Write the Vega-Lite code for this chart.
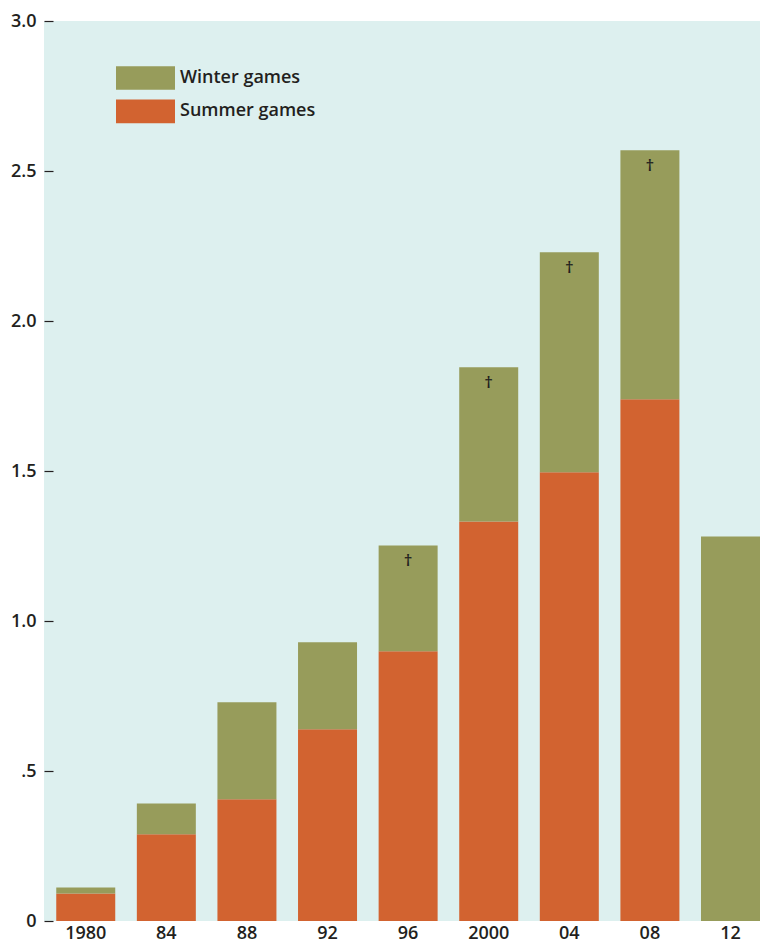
{
  "$schema": "https://vega.github.io/schema/vega-lite/v6.json",
  "autosize": "none",
  "width": 716,
  "height": 900,
  "padding": {"left": 44, "top": 21, "right": 0, "bottom": 23},
  "background": "white",
  "config": {
    "view": {"fill": "#ddf0ef", "stroke": null},
    "font": "Open Sans",
    "axis": {"labelFont": "Open Sans", "labelFontWeight": 600, "labelColor": "#231f20", "titleFont": "Open Sans"},
    "legend": {"labelFont": "Open Sans"}
  },
  "datasets": {
    "bars": [
      {"year": "1980", "series": "Summer games", "ord": 0, "value": 0.092},
      {"year": "1980", "series": "Winter games", "ord": 1, "value": 0.020},
      {"year": "84", "series": "Summer games", "ord": 0, "value": 0.289},
      {"year": "84", "series": "Winter games", "ord": 1, "value": 0.103},
      {"year": "88", "series": "Summer games", "ord": 0, "value": 0.406},
      {"year": "88", "series": "Winter games", "ord": 1, "value": 0.323},
      {"year": "92", "series": "Summer games", "ord": 0, "value": 0.639},
      {"year": "92", "series": "Winter games", "ord": 1, "value": 0.290},
      {"year": "96", "series": "Summer games", "ord": 0, "value": 0.899},
      {"year": "96", "series": "Winter games", "ord": 1, "value": 0.353},
      {"year": "2000", "series": "Summer games", "ord": 0, "value": 1.332},
      {"year": "2000", "series": "Winter games", "ord": 1, "value": 0.514},
      {"year": "04", "series": "Summer games", "ord": 0, "value": 1.496},
      {"year": "04", "series": "Winter games", "ord": 1, "value": 0.733},
      {"year": "08", "series": "Summer games", "ord": 0, "value": 1.739},
      {"year": "08", "series": "Winter games", "ord": 1, "value": 0.830},
      {"year": "12", "series": "Winter games", "ord": 1, "value": 1.282}
    ],
    "notes": [
      {"year": "96", "total": 1.252, "note": "†"},
      {"year": "2000", "total": 1.846, "note": "†"},
      {"year": "04", "total": 2.229, "note": "†"},
      {"year": "08", "total": 2.569, "note": "†"}
    ]
  },
  "layer": [
    {
      "data": {"name": "bars"},
      "mark": {"type": "bar"},
      "encoding": {
        "x": {
          "field": "year", "type": "ordinal", "sort": null,
          "scale": {"domain": ["1980","84","88","92","96","2000","04","08","12"], "paddingInner": 0.268, "paddingOuter": 0.076, "align": 1},
          "axis": {"title": null, "ticks": false, "domain": false, "labelAngle": 0, "labelFontSize": 18, "labelPadding": 3}
        },
        "y": {
          "field": "value", "type": "quantitative", "stack": "zero",
          "scale": {"domain": [0, 3], "nice": false},
          "axis": {
            "title": null, "grid": false, "domain": false,
            "values": [0, 0.5, 1, 1.5, 2, 2.5, 3],
            "tickSize": 9, "tickColor": "#231f20", "tickWidth": 1.2,
            "offset": -9, "labelPadding": 8, "labelFontSize": 18,
            "labelExpr": "datum.value == 0 ? '0' : datum.value == 0.5 ? '.5' : format(datum.value, '.1f')"
          }
        },
        "color": {
          "field": "series", "type": "nominal",
          "scale": {"domain": ["Winter games", "Summer games"], "range": ["#979c5b", "#d26330"]},
          "legend": {
            "title": null, "orient": "none", "legendX": 72, "legendY": 47,
            "symbolType": "M-1,-1.18H4.9V1.18H-1Z", "symbolSize": 400,
            "symbolStrokeWidth": 0, "symbolOpacity": 1,
            "rowPadding": 9.4, "labelOffset": 44,
            "labelFontSize": 18, "labelFontWeight": 600, "labelColor": "#231f20"
          }
        },
        "order": {"field": "ord", "type": "quantitative"}
      }
    },
    {
      "data": {"name": "notes"},
      "mark": {"type": "text", "dy": 16, "baseline": "middle", "fontSize": 17, "fontWeight": 600, "color": "#231f20"},
      "encoding": {
        "x": {"field": "year", "type": "ordinal", "sort": null},
        "y": {"field": "total", "type": "quantitative"},
        "text": {"field": "note"}
      }
    }
  ]
}
